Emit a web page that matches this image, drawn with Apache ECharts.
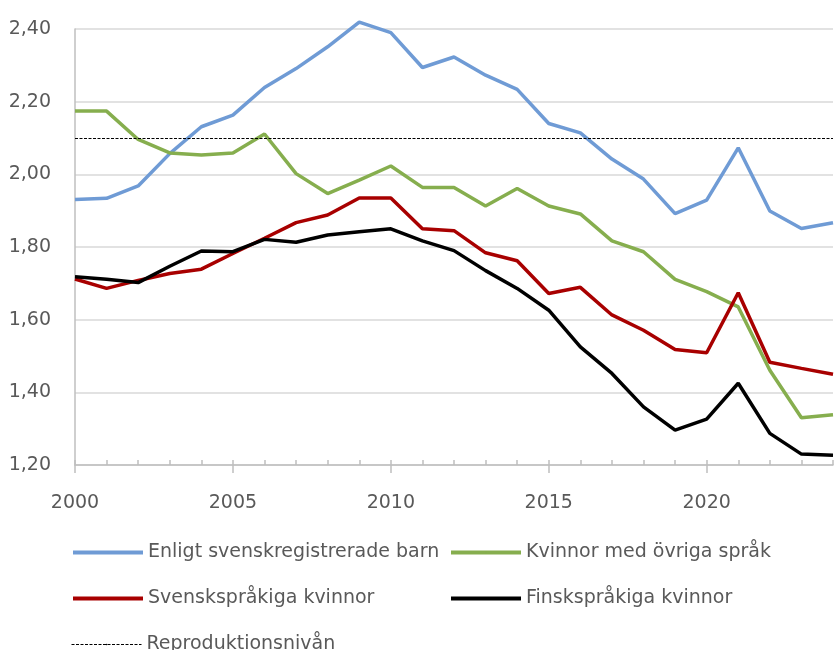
<!DOCTYPE html>
<html>
<head>
<meta charset="utf-8">
<script src="https://cdn.jsdelivr.net/npm/echarts@6/dist/echarts.min.js"></script>
<style>
  html, body { margin: 0; padding: 0; background: #fff; }
  #chart { width: 836px; height: 650px; }
</style>
</head>
<body>
<div id="chart"></div>
<script>
const years = ['2000','2001','2002','2003','2004','2005','2006','2007','2008','2009','2010','2011',
  '2012','2013','2014','2015','2016','2017','2018','2019','2020','2021','2022','2023','2024'];

const svenskregistrerade = [1.931, 1.934, 1.968, 2.057, 2.131, 2.163, 2.239, 2.291, 2.351, 2.419, 2.390, 2.294,
  2.323, 2.273, 2.234, 2.140, 2.114, 2.042, 1.987, 1.892, 1.929, 2.073, 1.899, 1.851, 1.867];
const ovrigaSprak = [2.174, 2.174, 2.096, 2.059, 2.053, 2.059, 2.111, 2.002, 1.947, 1.984, 2.023, 1.964,
  1.964, 1.913, 1.961, 1.913, 1.891, 1.817, 1.787, 1.711, 1.677, 1.635, 1.461, 1.330, 1.338];
const svensksprakiga = [1.712, 1.686, 1.708, 1.727, 1.739, 1.782, 1.824, 1.867, 1.888, 1.935, 1.935, 1.850,
  1.845, 1.784, 1.762, 1.672, 1.689, 1.613, 1.571, 1.518, 1.509, 1.674, 1.483, 1.466, 1.450];
const finsksprakiga = [1.718, 1.711, 1.702, 1.747, 1.789, 1.787, 1.821, 1.813, 1.833, 1.842, 1.850, 1.817,
  1.790, 1.735, 1.686, 1.626, 1.525, 1.452, 1.360, 1.296, 1.326, 1.425, 1.287, 1.230, 1.227];
const REPRO_LEVEL = 2.10;

const names = ['Enligt svenskregistrerade barn', 'Kvinnor med övriga språk',
  'Svenskspråkiga kvinnor', 'Finskspråkiga kvinnor', 'Reproduktionsnivån'];

const FONT = "'DejaVu Sans', sans-serif";
const textGray = '#595959';
const axisGray = '#bfbfbf';
const DOTS = [3, 1.5];

const lineSeries = (name, data, color) => ({
  name,
  type: 'line',
  data,
  symbol: 'none',
  clip: false,
  lineStyle: { color, width: 3.5 },
  itemStyle: { color },
  emphasis: { disabled: true }
});

// one legend per entry so the two columns line up like the original
const legendAt = (name, left, top, lineWidth) => ({
  data: [name],
  left, top,
  padding: 0,
  itemWidth: 70,
  itemHeight: 2,
  lineStyle: { width: lineWidth },
  textStyle: { color: textGray, fontSize: 19, fontFamily: FONT }
});

const chart = echarts.init(document.getElementById('chart'));
chart.setOption({
  animation: false,
  backgroundColor: '#fff',
  grid: { left: 75, right: 3, top: 29, bottom: 185 },
  legend: [
    legendAt(names[0], 71, 543, 4),
    legendAt(names[1], 449, 543, 4),
    legendAt(names[2], 71, 589, 4),
    legendAt(names[3], 449, 589, 4),
    legendAt(names[4], 71, 635, 1)
  ],
  xAxis: [
    {
      type: 'category',
      data: years,
      boundaryGap: false,
      axisLine: { lineStyle: { color: axisGray, width: 1.5 } },
      axisTick: { show: true, interval: (i) => i % 5 === 0, length: 8, lineStyle: { color: axisGray, width: 1.5 } },
      axisLabel: { interval: (i) => i % 5 === 0, color: textGray, fontSize: 19, fontFamily: FONT, margin: 29 },
      splitLine: { show: false }
    },
    {
      // yearly minor ticks, drawn inside the plot
      type: 'category',
      data: years,
      boundaryGap: false,
      position: 'bottom',
      axisLine: { show: false },
      axisTick: { show: true, inside: true, interval: 0, length: 5, lineStyle: { color: axisGray, width: 1.5 } },
      axisLabel: { show: false },
      splitLine: { show: false }
    }
  ],
  yAxis: {
    type: 'value',
    min: 1.2,
    max: 2.4,
    interval: 0.2,
    axisLine: { show: true, lineStyle: { color: axisGray, width: 1.5 } },
    axisTick: { show: false },
    axisLabel: {
      color: textGray, fontSize: 19, fontFamily: FONT, margin: 24,
      formatter: (v) => v.toFixed(2).replace('.', ',')
    },
    splitLine: { lineStyle: { color: '#d9d9d9', width: 1.5 } }
  },
  series: [
    lineSeries(names[0], svenskregistrerade, '#6f9bd5'),
    lineSeries(names[1], ovrigaSprak, '#86ae4e'),
    lineSeries(names[2], svensksprakiga, '#a80000'),
    lineSeries(names[3], finsksprakiga, '#000000'),
    {
      name: names[4],
      type: 'line',
      data: [],
      symbol: 'none',
      lineStyle: { color: '#000', width: 1, type: DOTS },
      itemStyle: { color: '#000' },
      markLine: {
        silent: true,
        symbol: 'none',
        label: { show: false },
        lineStyle: { color: '#000', width: 1, type: DOTS },
        data: [{ yAxis: REPRO_LEVEL }]
      }
    }
  ]
});
</script>
</body>
</html>
